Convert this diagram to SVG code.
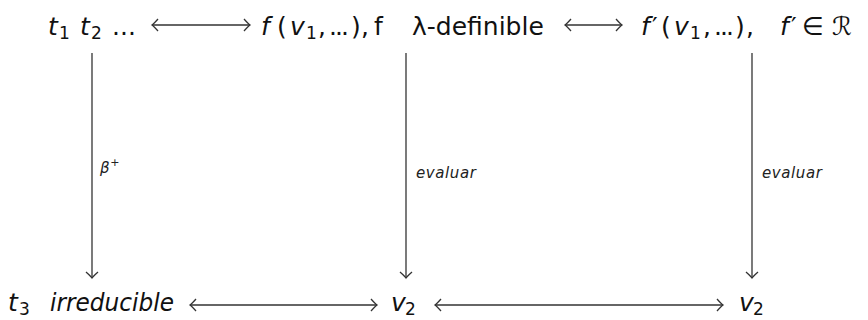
<svg xmlns="http://www.w3.org/2000/svg" width="868" height="320" viewBox="0 0 868 320">
<style>
.t{font-family:"DejaVu Sans",sans-serif;font-size:25px;fill:#111}
.i{font-style:italic}
.s{font-size:17px}
.e{letter-spacing:-2px}
.lbl{font-family:"DejaVu Sans",sans-serif;font-size:15px;font-style:italic;fill:#222;letter-spacing:0.6px}
.c{stroke:#333;stroke-width:1.3;fill:none}
</style>
<defs>
<marker id="ah" markerUnits="userSpaceOnUse" viewBox="-8 -8 10 16" refX="0" refY="0" markerWidth="10" markerHeight="16" orient="auto-start-reverse">
<path d="M-6,-6 Q-1.5,-1 0,0 Q-1.5,1 -6,6" stroke="#333" stroke-width="1.3" fill="none"/>
</marker>
</defs>
<rect width="868" height="320" fill="#fff"/>
<g id="n1"><text class="t" y="35"><tspan class="i" x="48">t</tspan><tspan class="s" x="59" y="39">1</tspan><tspan class="i" x="80" y="35">t</tspan><tspan class="s" x="91" y="39">2</tspan><tspan x="112" y="35">...</tspan></text></g>
<g id="n2"><text class="t" y="35"><tspan class="i" x="261">f</tspan><tspan x="277">(</tspan><tspan class="i" x="290">v</tspan><tspan class="s" x="306" y="39">1</tspan><tspan x="318" y="35">,</tspan><tspan class="e" x="329">...</tspan><tspan x="351">)</tspan><tspan x="361">,</tspan><tspan x="374">f</tspan><tspan x="412">λ-definible</tspan></text></g>
<g id="n3"><text class="t" y="35"><tspan class="i" x="641">f</tspan><tspan x="652">′</tspan><tspan x="661">(</tspan><tspan class="i" x="674">v</tspan><tspan class="s" x="690" y="39">1</tspan><tspan x="703" y="35">,</tspan><tspan class="e" x="714">...</tspan><tspan x="735">)</tspan><tspan x="746">,</tspan><tspan class="i" x="780">f</tspan><tspan x="791">′</tspan><tspan x="802">∈</tspan><tspan x="832">ℛ</tspan></text></g>
<g id="n4"><text class="t" y="311"><tspan class="i" x="8">t</tspan><tspan class="s" x="19" y="315">3</tspan><tspan class="i" x="50" y="311" textLength="124" lengthAdjust="spacingAndGlyphs">irreducible</tspan></text></g>
<g id="n5"><text class="t" y="311"><tspan class="i" x="391">v</tspan><tspan class="s" x="405" y="315">2</tspan></text></g>
<g id="n6"><text class="t" y="311"><tspan class="i" x="739">v</tspan><tspan class="s" x="753" y="315">2</tspan></text></g>
<g id="connectors">
<line class="c" x1="152" y1="25" x2="250" y2="25" marker-start="url(#ah)" marker-end="url(#ah)"/>
<line class="c" x1="565" y1="25" x2="622" y2="25" marker-start="url(#ah)" marker-end="url(#ah)"/>
<line class="c" x1="190" y1="305" x2="377" y2="305" marker-start="url(#ah)" marker-end="url(#ah)"/>
<line class="c" x1="435" y1="305" x2="723" y2="305" marker-start="url(#ah)" marker-end="url(#ah)"/>
<line class="c" x1="92" y1="53" x2="92" y2="278" marker-end="url(#ah)"/>
<line class="c" x1="406" y1="53" x2="406" y2="278" marker-end="url(#ah)"/>
<line class="c" x1="752" y1="53" x2="752" y2="278" marker-end="url(#ah)"/>
<text class="lbl" x="100" y="173">β<tspan font-size="11" dy="-7" font-style="normal">+</tspan></text>
<text class="lbl" x="416" y="178">evaluar</text>
<text class="lbl" x="762" y="178">evaluar</text>
</g>
</svg>
